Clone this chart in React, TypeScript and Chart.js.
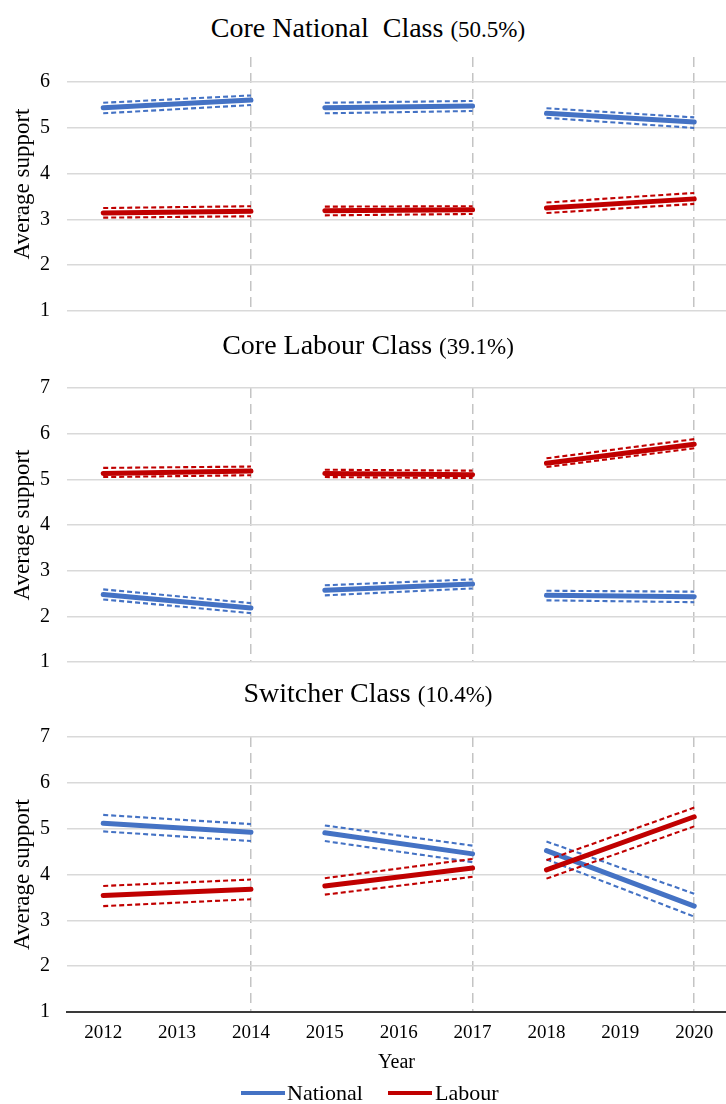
import React, { useEffect, useRef } from "react";
import { Chart, registerables } from "chart.js";

Chart.register(...registerables);

// ---------- data ----------
const YEARS = [2012, 2013, 2014, 2015, 2016, 2017, 2018, 2019, 2020];
const SEGMENT_STARTS = [2012, 2015, 2018];
const SEGMENT_ENDS = [2014, 2017, 2020];
const DIVIDER_YEARS = [2014, 2017, 2020];
const Y_TICKS_SIX = [1, 2, 3, 4, 5, 6];
const Y_TICKS_SEVEN = [1, 2, 3, 4, 5, 6, 7];
const SERIES_NAMES = ["National", "Labour"];

// values at [2012, 2014, 2015, 2017, 2018, 2020]
// Core National Class
const CN_NATIONAL = [5.44, 5.61, 5.44, 5.48, 5.32, 5.13];
const CN_NATIONAL_UPPER = [5.55, 5.71, 5.55, 5.59, 5.43, 5.23];
const CN_NATIONAL_LOWER = [5.32, 5.5, 5.32, 5.37, 5.22, 5.0];
const CN_LABOUR = [3.14, 3.18, 3.19, 3.21, 3.25, 3.45];
const CN_LABOUR_UPPER = [3.25, 3.29, 3.28, 3.29, 3.37, 3.58];
const CN_LABOUR_LOWER = [3.04, 3.07, 3.09, 3.12, 3.14, 3.34];

// Core Labour Class
const CL_NATIONAL = [2.48, 2.18, 2.57, 2.71, 2.46, 2.43];
const CL_NATIONAL_UPPER = [2.59, 2.29, 2.68, 2.81, 2.56, 2.54];
const CL_NATIONAL_LOWER = [2.37, 2.07, 2.46, 2.61, 2.35, 2.31];
const CL_LABOUR = [5.13, 5.18, 5.13, 5.1, 5.35, 5.77];
const CL_LABOUR_UPPER = [5.25, 5.28, 5.21, 5.19, 5.46, 5.88];
const CL_LABOUR_LOWER = [5.05, 5.09, 5.05, 5.03, 5.27, 5.68];

// Switcher Class
const SW_NATIONAL = [5.12, 4.92, 4.91, 4.45, 4.52, 3.31];
const SW_NATIONAL_UPPER = [5.3, 5.1, 5.07, 4.63, 4.72, 3.58];
const SW_NATIONAL_LOWER = [4.94, 4.73, 4.73, 4.27, 4.33, 3.08];
const SW_LABOUR = [3.54, 3.68, 3.75, 4.14, 4.1, 5.26];
const SW_LABOUR_UPPER = [3.75, 3.89, 3.92, 4.34, 4.31, 5.46];
const SW_LABOUR_LOWER = [3.31, 3.46, 3.56, 3.95, 3.91, 5.05];

// ---------- styling ----------
const FONT = "'Liberation Serif', 'Times New Roman', serif";
const BLUE = "#4472C4";
const RED = "#C00000";
const PAD = 30;

type PanelSpec = {
  title: string;
  share: string;
  titleY: number;
  top: number;
  height: number;
  yMax: number;
  yTicks: number[];
  showX: boolean;
  national: number[][];
  labour: number[][];
};

const PANELS: PanelSpec[] = [
  {
    title: "Core National  Class",
    share: "(50.5%)",
    titleY: 28,
    top: 27,
    height: 314,
    yMax: 6.55,
    yTicks: Y_TICKS_SIX,
    showX: false,
    national: [CN_NATIONAL, CN_NATIONAL_UPPER, CN_NATIONAL_LOWER],
    labour: [CN_LABOUR, CN_LABOUR_UPPER, CN_LABOUR_LOWER],
  },
  {
    title: "Core Labour Class",
    share: "(39.1%)",
    titleY: 345,
    top: 358,
    height: 334,
    yMax: 7,
    yTicks: Y_TICKS_SEVEN,
    showX: false,
    national: [CL_NATIONAL, CL_NATIONAL_UPPER, CL_NATIONAL_LOWER],
    labour: [CL_LABOUR, CL_LABOUR_UPPER, CL_LABOUR_LOWER],
  },
  {
    title: "Switcher Class",
    share: "(10.4%)",
    titleY: 693,
    top: 707,
    height: 375,
    yMax: 7,
    yTicks: Y_TICKS_SEVEN,
    showX: true,
    national: [SW_NATIONAL, SW_NATIONAL_UPPER, SW_NATIONAL_LOWER],
    labour: [SW_LABOUR, SW_LABOUR_UPPER, SW_LABOUR_LOWER],
  },
];

function toPoints(vals: number[]) {
  const pts: { x: number; y: number | null }[] = [];
  for (let i = 0; i < SEGMENT_STARTS.length; i++) {
    pts.push({ x: SEGMENT_STARTS[i], y: vals[2 * i] });
    pts.push({ x: SEGMENT_ENDS[i], y: vals[2 * i + 1] });
    if (i < SEGMENT_STARTS.length - 1) pts.push({ x: SEGMENT_ENDS[i] + 0.5, y: null });
  }
  return pts;
}

function seriesDatasets(name: string, color: string, sets: number[][]) {
  const [mean, upper, lower] = sets;
  return [
    {
      label: name,
      data: toPoints(mean),
      borderColor: color,
      backgroundColor: color,
      borderWidth: 5,
      borderCapStyle: "round",
      pointRadius: 0,
      spanGaps: false,
    },
    {
      label: name + " upper",
      data: toPoints(upper),
      borderColor: color,
      borderWidth: 2.1,
      borderDash: [5, 3],
      pointRadius: 0,
      spanGaps: false,
    },
    {
      label: name + " lower",
      data: toPoints(lower),
      borderColor: color,
      borderWidth: 2.1,
      borderDash: [5, 3],
      pointRadius: 0,
      spanGaps: false,
    },
  ];
}

function makeConfig(p: PanelSpec): any {
  return {
    type: "line",
    data: {
      datasets: [
        ...seriesDatasets(SERIES_NAMES[1], RED, p.labour),
        ...seriesDatasets(SERIES_NAMES[0], BLUE, p.national),
      ],
    },
    options: {
      animation: false,
      responsive: false,
      devicePixelRatio: 1,
      layout: { autoPadding: false, padding: { top: PAD, bottom: p.showX ? 0 : PAD, left: 0, right: 0 } },
      plugins: { legend: { display: false }, tooltip: { enabled: false }, title: { display: false } },
      scales: {
        x: {
          type: "linear",
          min: 2011.51,
          max: 2020.43,
          afterBuildTicks: (s: any) => {
            s.ticks = YEARS.map((v) => ({ value: v }));
          },
          afterFit: (s: any) => {
            s.height = p.showX ? 70 : 0;
          },
          ticks: {
            display: p.showX,
            padding: 10,
            autoSkip: false,
            maxRotation: 0,
            color: "#000",
            font: { family: FONT, size: 19 },
            callback: (v: any) => String(v),
          },
          grid: {
            color: (ctx: any) =>
              ctx.tick && DIVIDER_YEARS.includes(ctx.tick.value) ? "#c4c4c4" : "rgba(0,0,0,0)",
            lineWidth: 1.5,
            drawTicks: false,
          },
          border: { display: p.showX, color: "#3a3a3a", width: 2, dash: [10, 6] },
          title: {
            display: p.showX,
            text: "Year",
            color: "#000",
            font: { family: FONT, size: 20 },
            padding: { top: 0, bottom: 7 },
          },
        },
        y: {
          min: 1,
          max: p.yMax,
          afterBuildTicks: (s: any) => {
            s.ticks = p.yTicks.map((v) => ({ value: v }));
          },
          afterFit: (s: any) => {
            s.width = 67;
          },
          ticks: { padding: 17, color: "#000", font: { family: FONT, size: 20 } },
          grid: { color: "#d9d9d9", lineWidth: 1.5, drawTicks: false },
          border: { display: false },
          title: {
            display: true,
            text: "Average support",
            color: "#000",
            font: { family: FONT, size: 23 },
            padding: { top: 9, bottom: 0 },
          },
        },
      },
    },
  };
}

function Panel({ spec }: { spec: PanelSpec }) {
  const ref = useRef<HTMLCanvasElement>(null);
  useEffect(() => {
    const chart = new Chart(ref.current as HTMLCanvasElement, makeConfig(spec));
    return () => chart.destroy();
  }, [spec]);
  return (
    <>
      <div
        style={{
          position: "absolute",
          left: 0,
          width: 736,
          top: spec.titleY - 18,
          height: 36,
          lineHeight: "36px",
          textAlign: "center",
          fontFamily: FONT,
          color: "#000",
          whiteSpace: "pre",
        }}
      >
        <span style={{ fontSize: 28 }}>{spec.title} </span>
        <span style={{ fontSize: 23 }}>{spec.share}</span>
      </div>
      <div style={{ position: "absolute", left: 0, top: spec.top, width: 726, height: spec.height }}>
        <canvas ref={ref} width={726} height={spec.height} style={{ display: "block" }} />
      </div>
    </>
  );
}

function Legend() {
  const item = (name: string, color: string, lineLeft: number, textLeft: number) => (
    <React.Fragment key={name}>
      <div
        style={{ position: "absolute", left: lineLeft, top: 1091, width: 44, height: 4, background: color }}
      />
      <div
        style={{
          position: "absolute",
          left: textLeft,
          top: 1080,
          height: 26,
          lineHeight: "26px",
          fontFamily: FONT,
          fontSize: 22,
          color: "#000",
        }}
      >
        {name}
      </div>
    </React.Fragment>
  );
  return (
    <>
      {item(SERIES_NAMES[0], BLUE, 241, 287)}
      {item(SERIES_NAMES[1], RED, 388, 435)}
    </>
  );
}

export default function App() {
  return (
    <div
      style={{
        position: "absolute",
        left: 0,
        top: 0,
        width: 726,
        height: 1104,
        background: "#fff",
        overflow: "hidden",
      }}
    >
      {PANELS.map((p) => (
        <Panel key={p.title} spec={p} />
      ))}
      <Legend />
    </div>
  );
}
